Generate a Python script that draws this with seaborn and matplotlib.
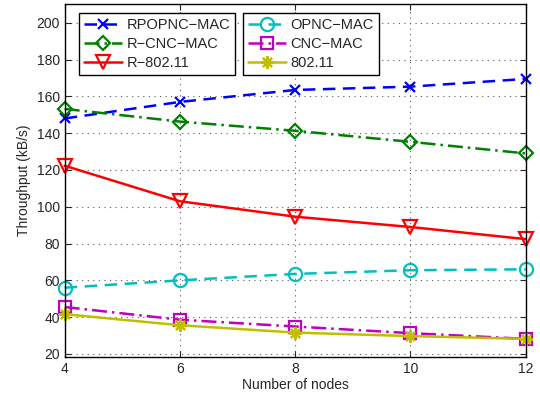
import numpy as np
import matplotlib
matplotlib.use('Agg')
import matplotlib.pyplot as plt
import seaborn as sns

# Data
nodes = [4, 6, 8, 10, 12]
rpopnc_mac = [148, 157, 163.5, 165.3, 169.5]
r_cnc_mac = [153.2, 146.3, 141.3, 135.3, 129]
r_80211 = [122.3, 103, 94.6, 89, 82.4]
opnc_mac = [56, 60, 63.5, 65.5, 66]
cnc_mac = [45.5, 38.6, 34.9, 31.3, 28.2]
p_80211 = [41.6, 35.6, 31.6, 29.7, 28.2]

yticks = [20, 40, 60, 80, 100, 120, 140, 160, 180, 200]
xticks = [4, 6, 8, 10, 12]

sns.set_style('ticks')
plt.rcParams['font.family'] = ['Liberation Sans', 'DejaVu Sans']

fig = plt.figure(figsize=(5.4, 4.01), dpi=100)
ax = fig.add_axes([0.1198, 0.1105, 0.8537, 0.8785])

# (values, label, color, linestyle, marker)
series = [
    (rpopnc_mac, 'RPOPNC\u2212MAC', '#0000ff', (0, (5, 3)), 'x'),
    (r_cnc_mac, 'R\u2212CNC\u2212MAC', '#008000', (0, (6, 2, 1, 2)), 'D'),
    (r_80211, 'R\u2212802.11', '#ff0000', '-', 'v'),
    (opnc_mac, 'OPNC\u2212MAC', '#00bfbf', (0, (5, 3)), 'o'),
    (cnc_mac, 'CNC\u2212MAC', '#bf00bf', (0, (6, 2, 1, 2)), 's'),
    (p_80211, '802.11', '#bfbf00', '-', (8, 2, 0)),
]

sizes = {'x': 7, 'D': 7.5, 'v': 10, 'o': 9.5, 's': 8}
for vals, lab, col, ls, mk in series:
    ms = sizes.get(mk, 9) if isinstance(mk, str) else 9
    sns.lineplot(x=nodes, y=vals, ax=ax, color=col, linestyle=ls, marker=mk,
                 markersize=ms, markerfacecolor='none', markeredgecolor=col,
                 markeredgewidth=1.6, linewidth=1.8, label=lab, legend=False,
                 clip_on=False)

ax.set_xlim(4, 12)
ax.set_ylim(18.5, 210)
ax.set_xticks(xticks)
ax.set_yticks(yticks)
ax.tick_params(direction='in', top=True, right=True, labelsize=10, length=4, width=0.8)
ax.grid(True, linestyle=(0, (1, 4)), color='0.35', linewidth=0.8)
for sp in ax.spines.values():
    sp.set_linewidth(1)
    sp.set_color('black')
ax.set_xlabel('Number of nodes', fontsize=10, labelpad=2)
ax.set_ylabel('Throughput (kB/s)', fontsize=10, labelpad=4)

handles, labels = ax.get_legend_handles_labels()
leg_kw = dict(frameon=True, fancybox=False, edgecolor='black', framealpha=1,
              fontsize=10.5, handlelength=2.6, labelspacing=0.35, borderpad=0.35,
              handletextpad=0.3, borderaxespad=0)
leg1 = ax.legend(handles[:3], labels[:3], loc='upper left',
                 bbox_to_anchor=(0.031, 0.977), **leg_kw)
leg1.get_frame().set_linewidth(1)
ax.add_artist(leg1)
leg2 = ax.legend(handles[3:], labels[3:], loc='upper left',
                 bbox_to_anchor=(0.387, 0.977), **leg_kw)
leg2.get_frame().set_linewidth(1)

fig.savefig('out.png', dpi=100)
